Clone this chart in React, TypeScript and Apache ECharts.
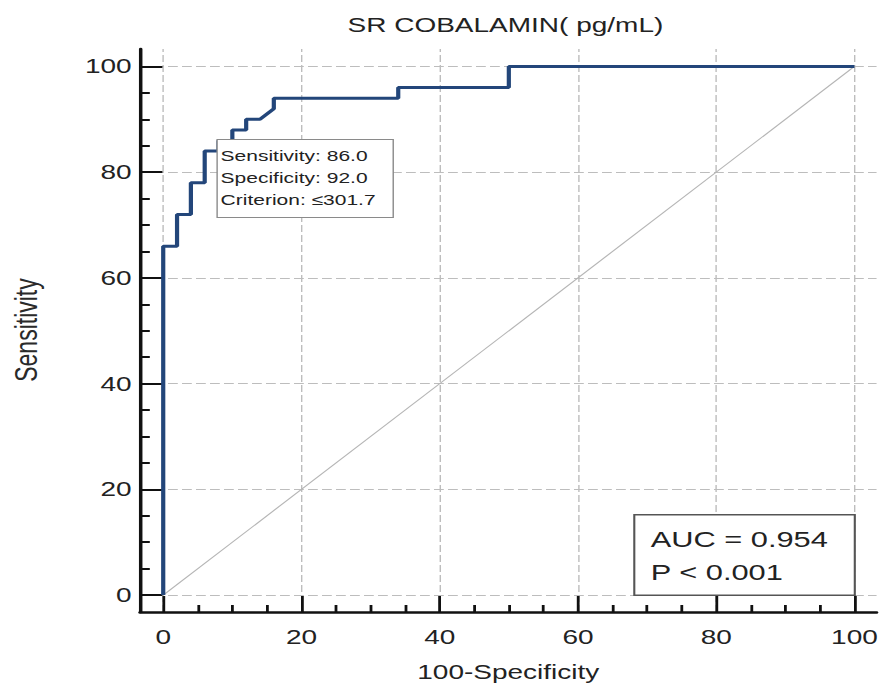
import React, { useEffect, useRef } from "react";
import * as echarts from "echarts";

// ROC curve vertices (100-Specificity, Sensitivity)
const fpr = [0, 0, 2, 2, 4, 4, 6, 6, 8, 8, 10, 10, 12, 12, 14, 16, 16, 34, 34, 50, 50, 100];
const tpr = [0, 66, 66, 72, 72, 78, 78, 84, 84, 86, 86, 88, 88, 90, 90, 92, 94, 94, 96, 96, 100, 100];
const diagX = [0, 100];
const diagY = [0, 100];
const majorTicks = [0, 20, 40, 60, 80, 100];
const minorTicks = [5, 10, 15, 25, 30, 35, 45, 50, 55, 65, 70, 75, 85, 90, 95];
const cutoffPoint = [8, 86];
const cutoffLines = ["Sensitivity: 86.0", "Specificity: 92.0", "Criterion: \u2264301.7"];
const aucAnchor = [100, 0];
const aucLines = ["AUC = 0.954", "P < 0.001"];
const titleText = "SR COBALAMIN( pg/mL)";
const xName = "100-Specificity";
const yName = "Sensitivity";

const FONT = "'Liberation Sans', Arial, Helvetica, sans-serif";
const STRETCH = 1.4;
const W = 630;
const H = 691;
const X_MIN = -3.36;
const X_MAX = 103.2;
const Y_MIN = -3.2;
const Y_MAX = 103.3;

export default function App() {
  const ref = useRef<HTMLDivElement>(null);

  useEffect(() => {
    if (!ref.current) return;
    const chart = echarts.init(ref.current, null, { renderer: "svg" });
    const axisColor = "#111";
    const gridStyle = { color: "#bdbdbd", width: 1, type: [7, 3] as any };

    const option: any = {
      animation: false,
      backgroundColor: "#ffffff",
      grid: { left: 100, right: 3.6, top: 49, bottom: 79 },
      graphic: [
        {
          type: "text",
          x: 361,
          y: 25,
          style: {
            text: titleText,
            fontSize: 20,
            fontFamily: FONT,
            fill: "#222",
            align: "center",
            verticalAlign: "middle",
          },
        },
        {
          type: "text",
          x: 18.6,
          y: 330,
          rotation: Math.PI / 2,
          style: {
            text: yName,
            fontSize: 23,
            fontFamily: FONT,
            fill: "#2a2a2a",
            align: "center",
            verticalAlign: "middle",
          },
        },
      ],
      xAxis: [
        {
          type: "value",
          min: X_MIN,
          max: X_MAX,
          position: "bottom",
          axisLine: { show: true, onZero: false, lineStyle: { color: axisColor, width: 2.5 } },
          axisTick: {
            show: true,
            inside: true,
            length: 16,
            customValues: majorTicks,
            lineStyle: { color: axisColor, width: 2 },
          },
          axisLabel: {
            customValues: majorTicks,
            margin: 15,
            fontSize: 20,
            color: "#222",
            fontFamily: FONT,
          },
          splitLine: { show: false },
          name: xName,
          nameLocation: "middle",
          nameGap: 50,
          nameTextStyle: { fontSize: 20, color: "#222", fontFamily: FONT },
        },
        {
          type: "value",
          min: X_MIN,
          max: X_MAX,
          position: "bottom",
          axisLine: { show: false, onZero: false },
          axisTick: {
            show: true,
            inside: true,
            length: 7,
            customValues: minorTicks,
            lineStyle: { color: axisColor, width: 2 },
          },
          axisLabel: { show: false },
          splitLine: { show: false },
        },
      ],
      yAxis: [
        {
          type: "value",
          min: Y_MIN,
          max: Y_MAX,
          position: "left",
          axisLine: { show: true, onZero: false, lineStyle: { color: axisColor, width: 2.5 } },
          axisTick: {
            show: true,
            inside: true,
            length: 16,
            customValues: majorTicks,
            lineStyle: { color: axisColor, width: 2 },
          },
          axisLabel: {
            customValues: majorTicks,
            margin: 6,
            fontSize: 20,
            color: "#222",
            fontFamily: FONT,
          },
          splitLine: { show: false },
        },
        {
          type: "value",
          min: Y_MIN,
          max: Y_MAX,
          position: "left",
          axisLine: { show: false, onZero: false },
          axisTick: {
            show: true,
            inside: true,
            length: 7,
            customValues: minorTicks,
            lineStyle: { color: axisColor, width: 2 },
          },
          axisLabel: { show: false },
          splitLine: { show: false },
        },
      ],
      series: [
        {
          type: "line",
          name: "reference",
          xAxisIndex: 0,
          yAxisIndex: 0,
          data: diagX.map((x, i) => [x, diagY[i]]),
          symbol: "none",
          silent: true,
          z: 1,
          lineStyle: { color: "#b5b5b5", width: 1 },
          markLine: {
            silent: true,
            z: 0,
            symbol: ["none", "none"],
            label: { show: false },
            lineStyle: gridStyle,
            data: [
              ...majorTicks.map((v) => ({ xAxis: v })),
              ...majorTicks.map((v) => ({ yAxis: v })),
            ],
          },
        },
        {
          type: "line",
          name: "ROC",
          xAxisIndex: 0,
          yAxisIndex: 0,
          data: fpr.map((x, i) => [x, tpr[i]]),
          symbol: "none",
          z: 3,
          lineStyle: { color: "#23467a", width: 3 },
          markPoint: {
            silent: true,
            z: 6,
            data: [
              {
                coord: cutoffPoint,
                symbol: "circle",
                symbolSize: 1,
                itemStyle: { color: "rgba(0,0,0,0)" },
                label: {
                  show: true,
                  position: [0, 0],
                  align: "left",
                  verticalAlign: "top",
                  formatter: cutoffLines.join("\n"),
                  fontSize: 15,
                  lineHeight: 22,
                  fontFamily: FONT,
                  color: "#222",
                  backgroundColor: "#ffffff",
                  borderColor: "#8a8a8a",
                  borderWidth: 1,
                  padding: [5, 12, 6, 2],
                },
              },
              {
                coord: aucAnchor,
                symbol: "circle",
                symbolSize: 1,
                itemStyle: { color: "rgba(0,0,0,0)" },
                label: {
                  show: true,
                  position: [-156, -79],
                  align: "left",
                  verticalAlign: "top",
                  width: 126,
                  formatter: aucLines.join("\n"),
                  fontSize: 22,
                  lineHeight: 33,
                  fontFamily: FONT,
                  color: "#222",
                  backgroundColor: "#ffffff",
                  borderColor: "#555",
                  borderWidth: 1.5,
                  padding: [8, 19, 5, 11],
                },
              },
            ],
          },
        },
      ],
    };

    chart.setOption(option);
    return () => chart.dispose();
  }, []);

  return (
    <div
      ref={ref}
      style={{
        position: "absolute",
        left: 0,
        top: 0,
        width: W,
        height: H,
        transform: `scaleX(${STRETCH})`,
        transformOrigin: "0 0",
      }}
    />
  );
}
